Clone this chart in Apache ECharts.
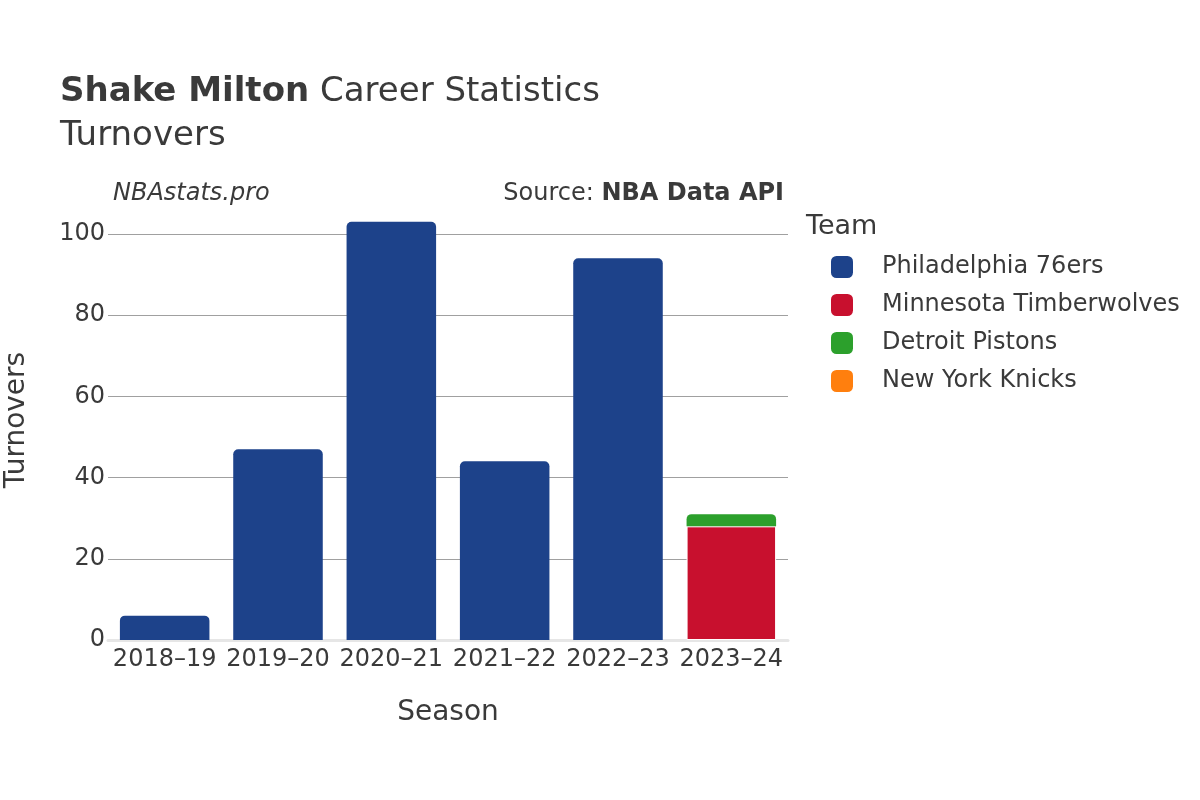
<!DOCTYPE html>
<html>
<head>
<meta charset="utf-8">
<title>Shake Milton Turnovers</title>
<script src="https://cdn.jsdelivr.net/npm/echarts@6/dist/echarts.min.js"></script>
<style>
   html, body { margin: 0; padding: 0; background: #fff; }
   #chart { width: 1200px; height: 800px; }
</style>
</head>
<body>
<div id="chart"></div>
<script>
// seasons on the x axis
const seasons = ['2018–19', '2019–20', '2020–21', '2021–22', '2022–23', '2023–24']
// turnovers per team, stacked per season
const phiValues = [6, 47, 103, 44, 94, '-']
const minValues = ['-', '-', '-', '-', '-', 28]
const detValues = ['-', '-', '-', '-', '-', 3]
const nykValues = ['-', '-', '-', '-', '-', 0]
const yTicks = [0, 20, 40, 60, 80, 100]

const teams = ['Philadelphia 76ers', 'Minnesota Timberwolves', 'Detroit Pistons', 'New York Knicks']
const colors = ['#1d428a', '#c8102e', '#2ca02c', '#ff7f0e']
const font = 'DejaVu Sans'
const textColor = '#3a3a3a'

let chart = echarts.init(document.getElementById('chart'))

function barSeries(name, values, color, rounded) {
   return {
      name: name,
      type: 'bar',
      stack: 'total',
      clip: false,
      barCategoryGap: '21%',
      data: values,
      itemStyle: {
         color: color,
         borderColor: '#fff',
         borderWidth: rounded === 'mid' ? 1 : 0,
         borderRadius: rounded === true ? [5, 5, 0, 0] : 0
      }
   }
}

let option = {
   backgroundColor: '#fff',
   animation: false,
   title: [
      {
         left: 60,
         top: 70,
         padding: 0,
         text: '{b|Shake Milton}{n| Career Statistics}\n{n|Turnovers}',
         textStyle: {
            rich: {
               b: { fontFamily: font, fontSize: 34, fontWeight: 'bold', color: textColor, lineHeight: 44 },
               n: { fontFamily: font, fontSize: 34, fontWeight: 'normal', color: textColor, lineHeight: 44 }
            }
         }
      },
      {
         left: 113,
         top: 182,
         padding: 0,
         text: 'NBAstats.pro',
         textStyle: { fontFamily: font, fontSize: 24, fontStyle: 'italic', fontWeight: 'normal', color: textColor }
      },
      {
         right: 416,
         top: 182,
         padding: 0,
         text: '{n|Source: }{b|NBA Data API}',
         textStyle: {
            rich: {
               n: { fontFamily: font, fontSize: 24, fontWeight: 'normal', color: textColor },
               b: { fontFamily: font, fontSize: 24, fontWeight: 'bold', color: textColor }
            }
         }
      },
      {
         left: 806,
         top: 213,
         padding: 0,
         text: 'Team',
         textStyle: { fontFamily: font, fontSize: 27, fontWeight: 'normal', color: textColor }
      }
   ],
   graphic: [
      {
         type: 'text',
         x: 17,
         y: 420,
         rotation: Math.PI / 2,
         style: {
            text: 'Turnovers',
            fontFamily: font,
            fontSize: 28,
            fill: textColor,
            align: 'center',
            verticalAlign: 'middle'
         }
      }
   ],
   legend: {
      orient: 'vertical',
      left: 831,
      top: 255,
      padding: 0,
      icon: 'roundRect',
      itemWidth: 22,
      itemHeight: 22,
      itemGap: 14,
      data: teams,
      itemStyle: { borderWidth: 0 },
      textStyle: {
         fontFamily: font,
         fontSize: 24,
         lineHeight: 22,
         color: textColor,
         padding: [0, 0, 0, 24]
      }
   },
   grid: {
      left: 108,
      right: 412,
      top: 234,
      bottom: 160,
      containLabel: false,
      outerBoundsMode: 'none'
   },
   xAxis: {
      type: 'category',
      data: seasons,
      name: 'Season',
      nameLocation: 'middle',
      nameGap: 59,
      nameTextStyle: { fontFamily: font, fontSize: 28, color: textColor },
      axisTick: { show: false },
      axisLine: { show: true, lineStyle: { color: '#e6e6e6', width: 3 } },
      axisLabel: { interval: 0, fontFamily: font, fontSize: 24, color: textColor, margin: 8 }
   },
   yAxis: {
      type: 'value',
      min: 0,
      max: 100,
      interval: 20,
      axisLine: { show: false },
      axisTick: { show: false },
      splitLine: { show: true, lineStyle: { color: '#a0a0a0', width: 1 } },
      axisLabel: {
         fontFamily: font,
         fontSize: 24,
         color: textColor,
         margin: 3,
         padding: [4, 0, 0, 0],
         formatter: v => (yTicks.indexOf(v) >= 0 ? String(v) : '')
      }
   },
   series: [
      barSeries(teams[0], phiValues, colors[0], true),
      barSeries(teams[1], minValues, colors[1], 'mid'),
      barSeries(teams[2], detValues, colors[2], true),
      barSeries(teams[3], nykValues, colors[3], true)
   ]
}

chart.setOption(option)
</script>
</body>
</html>
